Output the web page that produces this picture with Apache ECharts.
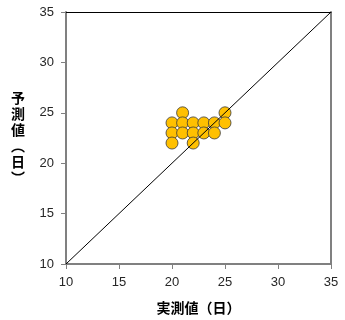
<!DOCTYPE html>
<html>
<head>
<meta charset="utf-8">
<style>
  html, body { margin: 0; padding: 0; background: #fff; }
  #chart { width: 345px; height: 320px; }
</style>
<script src="https://cdn.jsdelivr.net/npm/echarts@6/dist/echarts.min.js"></script>
</head>
<body>
<div id="chart"></div>
<script>
// Measured (days) vs predicted (days)
const measured  = [21, 25, 20, 21, 22, 23, 24, 25, 20, 21, 22, 23, 24, 20, 22];
const predicted = [25, 25, 24, 24, 24, 24, 24, 24, 23, 23, 23, 23, 23, 22, 22];
// 1:1 reference line endpoints
const lineX = [10, 35];
const lineY = [10, 35];
const axisMin = 10, axisMax = 35, axisStep = 5;

const points = measured.map((m, i) => [m, predicted[i]]);
const diag = lineX.map((x, i) => [x, lineY[i]]);

const labelFont = { fontFamily: 'Liberation Sans, Arial, sans-serif', fontSize: 13, color: '#262626' };
const nameFont = { fontFamily: 'Noto Sans CJK JP, sans-serif', fontSize: 14, fontWeight: 'bold', color: '#000' };

const chart = echarts.init(document.getElementById('chart'), null, { renderer: 'canvas' });
chart.setOption({
  animation: false,
  grid: { left: 66, right: 14, top: 12, bottom: 55, containLabel: false },
  xAxis: [{
    type: 'value', min: axisMin, max: axisMax, interval: axisStep,
    name: '実測値（日）', nameLocation: 'middle', nameGap: 37, nameTextStyle: nameFont,
    axisLine: { show: true, lineStyle: { color: '#808080', width: 2 } },
    axisTick: { show: true, inside: false, length: 5, lineStyle: { color: '#808080' } },
    axisLabel: Object.assign({ margin: 12 }, labelFont),
    splitLine: { show: false }
  }, {
    type: 'value', min: axisMin, max: axisMax, position: 'top',
    axisLine: { show: true, lineStyle: { color: '#000', width: 1 } },
    axisTick: { show: false }, axisLabel: { show: false }, splitLine: { show: false }
  }],
  yAxis: [{
    type: 'value', min: axisMin, max: axisMax, interval: axisStep,
    name: '予\n測\n値\n︵\n日\n︶', nameLocation: 'middle', nameGap: 41, nameRotate: 0,
    nameTextStyle: Object.assign({ lineHeight: 16 }, nameFont),
    axisLine: { show: true, lineStyle: { color: '#808080', width: 2 } },
    axisTick: { show: true, inside: false, length: 5, lineStyle: { color: '#808080' } },
    axisLabel: Object.assign({ margin: 12 }, labelFont),
    splitLine: { show: false }
  }, {
    type: 'value', min: axisMin, max: axisMax, position: 'right',
    axisLine: { show: true, lineStyle: { color: '#808080', width: 2 } },
    axisTick: { show: false }, axisLabel: { show: false }, splitLine: { show: false }
  }],
  series: [{
    type: 'line', data: diag, symbol: 'none', silent: true,
    lineStyle: { color: '#000', width: 1 }, z: 3
  }, {
    type: 'scatter', data: points, symbol: 'circle', symbolSize: 12,
    itemStyle: { color: '#FFC000', borderColor: '#3a3a3a', borderWidth: 0.8, opacity: 1 }, z: 2
  }]
});
</script>
</body>
</html>
